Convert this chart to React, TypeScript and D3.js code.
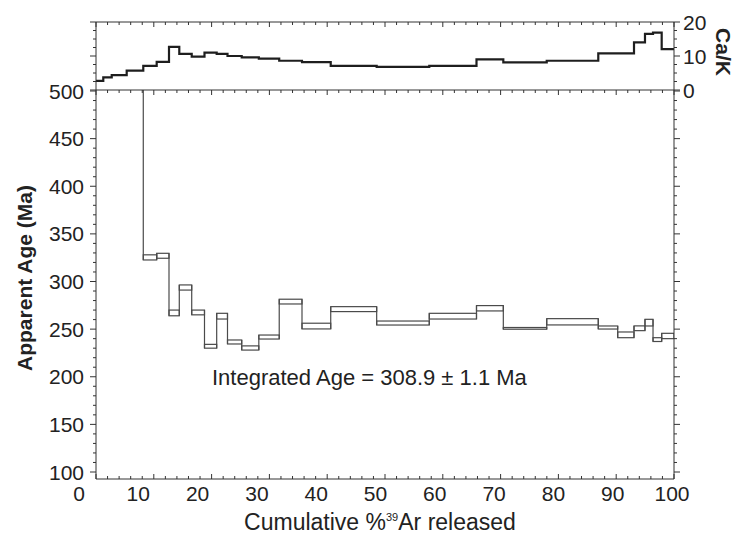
import React from 'react';
import * as d3 from 'd3';

// Step boundaries: cumulative %39Ar released
const cumulativeRelease = [
  0, 1.26, 2.72, 5.31, 8.18, 10.5, 12.63, 14.41, 16.56, 18.77, 20.88, 22.75, 25.21, 28.17,
  31.7, 35.64, 40.61, 48.56, 57.66, 65.83, 70.47, 77.98, 86.9, 90.26, 93.08, 94.98, 96.37,
  97.87, 100,
];

// Apparent age of each heating step (Ma) and its 1-sigma error
const apparentAge = [
  1200, 880, 690, 560, 325.3, 327.0, 267.0, 293.7, 267.5, 232.0, 263.6, 236.5, 230.2, 241.7,
  278.9, 253.2, 271.0, 256.4, 263.6, 271.9, 250.8, 257.7, 251.7, 244.0, 250.9, 256.8, 239.0,
  242.8,
];
const ageError = [
  10, 8, 6, 5, 2.7, 2.6, 3.0, 2.7, 2.5, 2.0, 3.0, 2.1, 2.2, 2.1, 2.5, 3.0, 2.6, 2.1, 3.0, 2.8,
  0.9, 3.3, 1.6, 3.0, 2.5, 3.5, 2.0, 2.8,
];

// Ca/K ratio of each step
const caK = [
  2.7, 3.7, 4.4, 5.7, 7.1, 8.3, 12.7, 10.6, 9.8, 11.0, 10.6, 10.0, 9.6, 9.2, 8.6, 8.2, 7.1, 6.8,
  7.1, 9.0, 8.1, 8.6, 10.8, 10.8, 14.0, 16.5, 16.9, 12.0,
];

const xTickLabels = [0, 10, 20, 30, 40, 50, 60, 70, 80, 90, 100];
const ageTickLabels = [100, 150, 200, 250, 300, 350, 400, 450, 500];
const caKTickLabels = [0, 10, 20];
const integratedAgeText = 'Integrated Age = 308.9 \u00b1 1.1 Ma';

const FONT = '"Liberation Sans", Arial, Helvetica, sans-serif';
const AXIS = '#333';
const TEXT = '#222';

export default function App() {
  const W = 735;
  const H = 537;

  const x = d3.scaleLinear().domain([0, 100]).range([96, 674]);
  const xLabel = d3.scaleLinear().domain([0, 100]).range([79, 672]);
  const y = d3.scaleLinear().domain([100, 500]).range([472, 91]);
  const yc = d3.scaleLinear().domain([0, 20]).range([90, 22]);

  const left = x(0);
  const right = x(100);
  const mainTop = 90;
  const mainBottom = 479;
  const topTop = yc(20);

  const n = apparentAge.length;
  const steps = d3.range(n).map((i) => ({
    x0: x(cumulativeRelease[i]),
    x1: x(cumulativeRelease[i + 1]),
    hi: apparentAge[i] + ageError[i],
    lo: apparentAge[i] - ageError[i],
  }));

  const caKLine = d3
    .line<[number, number]>()
    .x((d) => x(d[0]))
    .y((d) => yc(d[1]))
    .curve(d3.curveStepAfter);
  const caKPoints: [number, number][] = caK.map((v, i) => [cumulativeRelease[i], v]);
  caKPoints.push([100, caK[caK.length - 1]]);

  const minorX = d3.range(0, 100.01, 2);
  const minorAge = d3.range(100, 500.01, 10);
  const minorCaK = d3.range(0, 20.01, 2.5);

  return (
    <svg
      width={W}
      height={H}
      style={{ position: 'absolute', left: 0, top: 0, background: '#fff' }}
      fontFamily={FONT}
    >
      <defs>
        <clipPath id="mainClip">
          <rect x={left} y={mainTop} width={right - left} height={mainBottom - mainTop} />
        </clipPath>
      </defs>
      <rect width={W} height={H} fill="#fff" />

      {/* Ca/K panel */}
      <path d={caKLine(caKPoints) || ''} fill="none" stroke="#1e1e1e" strokeWidth={2.2} />

      {/* age spectrum: error boxes of each step */}
      <g clipPath="url(#mainClip)" fill="none" stroke="#4a4a4a" strokeWidth={1.2}>
        {steps.map((s, i) => (
          <rect key={'s' + i} x={s.x0} y={y(s.hi)} width={s.x1 - s.x0} height={y(s.lo) - y(s.hi)} />
        ))}
        {steps.slice(1).map((s, i) => {
          const p = steps[i];
          return (
            <line
              key={'c' + i}
              x1={s.x0}
              x2={s.x0}
              y1={y(Math.max(p.hi, s.hi))}
              y2={y(Math.min(p.lo, s.lo))}
            />
          );
        })}
      </g>

      {/* frames */}
      <g stroke={AXIS} strokeWidth={1} fill="none">
        <line x1={left} x2={right} y1={topTop} y2={topTop} />
        <line x1={left} x2={right} y1={mainTop} y2={mainTop} />
        <line x1={left} x2={right} y1={mainBottom} y2={mainBottom} />
        <line x1={left} x2={left} y1={topTop} y2={mainBottom} />
        <line x1={right} x2={right} y1={topTop} y2={mainBottom} />
      </g>

      {/* x ticks, pointing inward */}
      <g stroke={AXIS} strokeWidth={1}>
        {minorX.map((v) => {
          const major = v % 10 === 0;
          const len = major ? 5 : 3;
          const px = x(v);
          return (
            <g key={'xt' + v}>
              <line x1={px} x2={px} y1={topTop} y2={topTop + len} />
              <line x1={px} x2={px} y1={mainTop} y2={mainTop + len} />
              <line x1={px} x2={px} y1={mainBottom} y2={mainBottom - len} />
            </g>
          );
        })}
        {minorAge.map((v) => {
          const major = v % 50 === 0;
          const len = major ? 6 : 3;
          const py = y(v);
          return (
            <g key={'yt' + v}>
              <line x1={left - len} x2={left} y1={py} y2={py} />
              <line x1={right} x2={right + len} y1={py} y2={py} />
            </g>
          );
        })}
        {minorCaK.map((v) => {
          const major = v % 10 === 0;
          const len = major ? 6 : 3;
          const py = yc(v);
          return (
            <g key={'ct' + v}>
              <line x1={left - len} x2={left} y1={py} y2={py} />
              <line x1={right} x2={right + len} y1={py} y2={py} />
            </g>
          );
        })}
      </g>

      {/* tick labels */}
      <g fill={TEXT} fontSize={21}>
        {xTickLabels.map((v) => (
          <text key={'xl' + v} x={xLabel(v)} y={501} textAnchor="middle">
            {v}
          </text>
        ))}
        {ageTickLabels.map((v) => (
          <text key={'al' + v} x={84} y={y(v)} dy="0.36em" textAnchor="end">
            {v}
          </text>
        ))}
        {caKTickLabels.map((v) => (
          <text key={'cl' + v} x={683} y={yc(v)} dy="0.36em" textAnchor="start">
            {v}
          </text>
        ))}
      </g>

      {/* axis titles */}
      <text x={380} y={530} textAnchor="middle" fill={TEXT} fontSize={23}>
        Cumulative %
        <tspan fontSize={11} dy={-9}>
          39
        </tspan>
        <tspan dy={9}>Ar released</tspan>
      </text>
      <text
        transform="translate(32,278) rotate(-90)"
        textAnchor="middle"
        fill={TEXT}
        fontSize={21}
        fontWeight="bold"
      >
        Apparent Age (Ma)
      </text>
      <text
        transform="translate(716,52) rotate(90)"
        textAnchor="middle"
        fill={TEXT}
        fontSize={21}
        fontWeight="bold"
      >
        Ca/K
      </text>

      <text x={212} y={385} fill={TEXT} fontSize={22}>
        {integratedAgeText}
      </text>
    </svg>
  );
}
